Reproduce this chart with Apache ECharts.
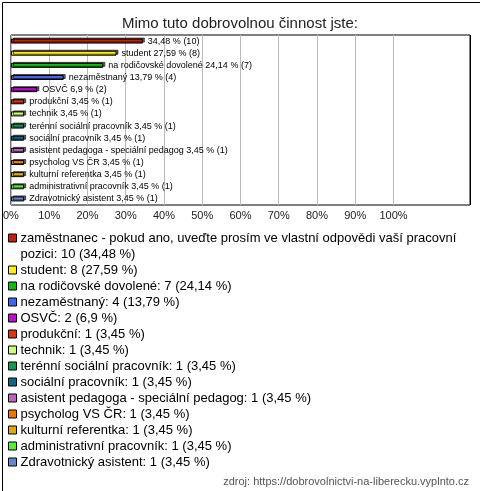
<!DOCTYPE html>
<html><head><meta charset="utf-8">
<script src="https://cdn.jsdelivr.net/npm/echarts@6/dist/echarts.min.js"></script>
<style>html,body{margin:0;padding:0;background:#fff}#c{width:480px;height:491px}</style>
</head><body><div id="c"></div>
<script>
const categories = ["zaměstnanec - pokud ano, uveďte prosím ve vlastní odpovědi vaší pracovní pozici","student","na rodičovské dovolené","nezaměstnaný","OSVČ","produkční","technik","terénní sociální pracovník","sociální pracovník","asistent pedagoga - speciální pedagog","psycholog VS ČR","kulturní referentka","administrativní pracovník","Zdravotnický asistent"];
const counts = [10,8,7,4,2,1,1,1,1,1,1,1,1,1];
const percents = [34.48,27.59,24.14,13.79,6.9,3.45,3.45,3.45,3.45,3.45,3.45,3.45,3.45,3.45];
const colors = ["#c0200c","#ffee11","#11bb11","#4466ee","#bb11cc","#dd3311","#ccff77","#119955","#116688","#bb66bb","#ee7700","#ddaa11","#55ee33","#6688cc"];
const xTicks = [0,10,20,30,40,50,60,70,80,90,100];

const fmt = v => String(v).replace('.', ',');
const chart = echarts.init(document.getElementById('c'), null, {renderer:'canvas'});
const series = categories.map((name, i) => ({
  type:'bar', name, stack:'all', barWidth:5,
  data: categories.map((_, j) => j === i ? percents[i] : '-'),
  itemStyle:{color:colors[i], borderColor:'#000', borderWidth:1, shadowColor:'rgba(0,0,0,0.6)', shadowOffsetX:2, shadowOffsetY:-1, shadowBlur:0},
  label:{show:true, position:'right', distance:5, fontFamily:'Liberation Sans', fontSize:9, color:'#000',
    formatter: () => (i === 0 ? '' : name + ' ') + fmt(percents[i]) + ' % (' + counts[i] + ')'},
  emphasis:{disabled:true}, animation:false
}));
const legendText = {};
categories.forEach((n, i) => {
  let t = n + ': ' + counts[i] + ' (' + fmt(percents[i]) + ' %)';
  if (i === 0) t = '\nzaměstnanec - pokud ano, uveďte prosím ve vlastní odpovědi vaší pracovní\npozici: ' + counts[i] + ' (' + fmt(percents[i]) + ' %)';
  legendText[n] = t;
});
const splitColors = xTicks.map(() => '#bbbbbb').concat(['rgba(0,0,0,0)', '#000']);
chart.setOption({
  animation:false,
  color: colors,
  title:[
    {text:'Mimo tuto dobrovolnou činnost jste:', left:'center', top:11, textStyle:{fontFamily:'Liberation Sans', fontSize:15, fontWeight:'normal', color:'#222'}},
    {text:'zdroj: https://dobrovolnictvi-na-liberecku.vyplnto.cz', right:6, top:471, textStyle:{fontFamily:'Liberation Sans', fontSize:11, fontWeight:'normal', color:'#555'}}
  ],
  grid:{left:10, top:35, width:460, height:170, show:true, borderColor:'#000', borderWidth:1, containLabel:false},
  xAxis:{type:'value', min:0, max:120, interval:10,
    axisLine:{show:false}, axisTick:{show:false},
    splitLine:{show:true, lineStyle:{color:splitColors, width:1}},
    axisLabel:{fontFamily:'Liberation Sans', fontSize:11, color:'#222', margin:5,
      formatter: v => v <= 100 ? v + '%' : ''}},
  yAxis:{type:'category', data:categories, inverse:true, show:false},
  legend:{orient:'vertical', left:8, top:214, padding:0, itemWidth:8, itemHeight:8, itemGap:0, icon:'rect',
    selectedMode:false, align:'left', data:categories,
    itemStyle:{borderColor:'#000', borderWidth:1},
    textStyle:{fontFamily:'Liberation Sans', fontSize:13, color:'#000', lineHeight:16, padding:[0,0,0,-1]},
    formatter: n => legendText[n]},
  graphic:[{type:'rect', left:0, top:0, shape:{x:0.5, y:0.5, width:479, height:490}, style:{fill:'none', stroke:'#000', lineWidth:1}, silent:true}],
  series
});
</script></body></html>
